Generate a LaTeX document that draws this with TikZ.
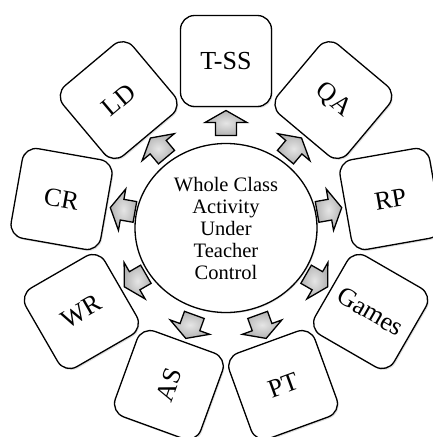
\documentclass[tikz,border=0pt]{standalone}
\usepackage{fontspec}
\setmainfont{Liberation Serif}
\usetikzlibrary{shapes.geometric,shadows}
\tikzset{
  box/.style={draw, line width=1.3pt, rounded corners=14pt, minimum width=91pt, minimum height=91pt,
    fill=white, font=\fontsize{26}{30}\selectfont,
    drop shadow={shadow xshift=1.2pt, shadow yshift=-1.5pt, opacity=0.25}},
  hub/.style={draw, ellipse, line width=1.3pt, minimum width=182pt, minimum height=169pt,
    fill=white, align=center, font=\fontsize{20.5}{22}\selectfont, inner sep=0pt,
    drop shadow={shadow xshift=1pt, shadow yshift=-1.2pt, opacity=0.2}},
  arrowstyle/.style={draw, line width=1.3pt, line join=miter, inner color=gray!20, outer color=gray!60},
  outarrow/.pic={\path[arrowstyle] (0,12.5) -- (21,0.5) -- (10.5,0.5) -- (10.5,-12.5)
     -- (-10.5,-12.5) -- (-10.5,0.5) -- (-21,0.5) -- cycle;}
}
\begin{document}
\begin{tikzpicture}[x=1pt,y=1pt]
\useasboundingbox (-226,-209) rectangle (207,228);
\clip (-226,-209) rectangle (207,228);
\node[hub] (c) at (0,0) {Whole Class\\Activity\\Under\\Teacher\\Control};
\foreach \k/\lab/\r in {0/T-SS/0, 1/QA/-40, 2/RP/10, 3/Games/-30, 4/PT/20, 5/AS/70, 6/WR/30, 7/CR/-10, 8/LD/40}{
  \pgfmathsetmacro{\ang}{90-40*\k}
  \node[box, rotate=\r] (b\k) at (\ang:167) {\lab};
  \pic[rotate=\ang-90] (a\k) at (\ang:105) {outarrow};
}
\end{tikzpicture}
\end{document}
